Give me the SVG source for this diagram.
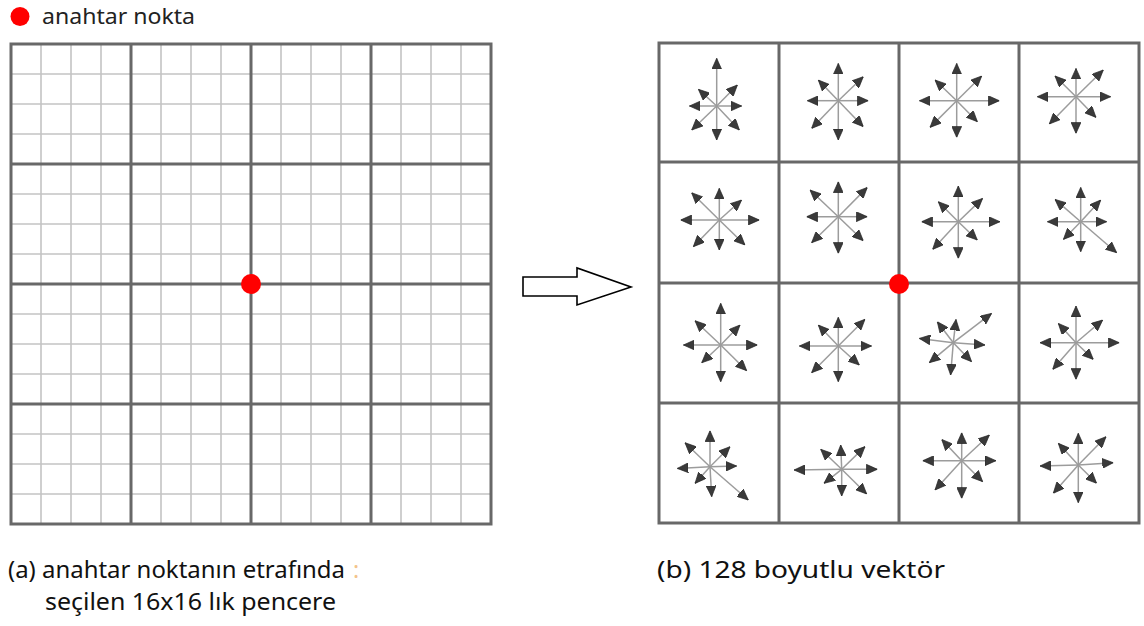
<svg xmlns="http://www.w3.org/2000/svg" width="1144" height="626" viewBox="0 0 1144 626">
<style>
.fine{stroke:#c4c4c4;stroke-width:1.6;fill:none}
.big{stroke:#686868;stroke-width:3;fill:none}
.v{stroke:#9c9c9c;stroke-width:1.5;marker-end:url(#ah)}
.lbl{font-family:"Noto Sans","Open Sans",sans-serif;font-size:21px;fill:#222}
.cap{font-family:"Noto Sans","Open Sans",sans-serif;font-size:23px;fill:#111}
.key{fill:#ff0000}
</style>
<defs>
<marker id="ah" viewBox="0 0 10 9" refX="10" refY="4.5" markerWidth="11" markerHeight="10" markerUnits="userSpaceOnUse" orient="auto">
<path d="M0,0 L10,4.5 L0,9 z" fill="#3a3a3a" stroke="#222" stroke-width="0.6"/>
</marker>
</defs>
<rect width="1144" height="626" fill="#fff"/>

<g id="legend">
<circle class="key" cx="20" cy="16.5" r="9.5"/>
<text class="lbl" x="42" y="24" textLength="153" lengthAdjust="spacingAndGlyphs">anahtar nokta</text>
</g>

<g id="window16x16">
<path class="fine" d="M41,44V524M71,44V524M101,44V524M161,44V524M191,44V524M221,44V524M281,44V524M311,44V524M341,44V524M401,44V524M431,44V524M461,44V524M11,74H491M11,104H491M11,134H491M11,194H491M11,224H491M11,254H491M11,314H491M11,344H491M11,374H491M11,434H491M11,464H491M11,494H491"/>
<path class="big" d="M131,44V524M251,44V524M371,44V524M11,164H491M11,284H491M11,404H491"/>
<rect class="big" x="11" y="44" width="480" height="480"/>
<circle class="key" cx="251" cy="284" r="10"/>
</g>

<g id="connectors">
<polygon points="523,277 577,277 577,268 631,287 577,305 577,296 523,296" fill="#fff" stroke="#000" stroke-width="1.6"/>
</g>

<g id="descriptor">
<path class="big" d="M779,43V523M899,43V523M1019,43V523M659,162H1139M659,283H1139M659,403H1139"/>
<rect class="big" x="659" y="43" width="480" height="480"/>

<g id="c00" transform="translate(716.7,106)">
<line class="v" x1="0" y1="0" x2="0" y2="-47.7"/><line class="v" x1="0" y1="0" x2="25" y2="0"/><line class="v" x1="0" y1="0" x2="0" y2="34"/><line class="v" x1="0" y1="0" x2="-27.3" y2="0"/>
<line class="v" x1="0" y1="0" x2="20.7" y2="-21"/><line class="v" x1="0" y1="0" x2="-18.3" y2="-16.7"/><line class="v" x1="0" y1="0" x2="22.7" y2="24"/><line class="v" x1="0" y1="0" x2="-25" y2="24"/>
</g>
<g id="c01" transform="translate(838.3,100.7)">
<line class="v" x1="0" y1="0" x2="0" y2="-37.3"/><line class="v" x1="0" y1="0" x2="30" y2="0"/><line class="v" x1="0" y1="0" x2="0" y2="39.3"/><line class="v" x1="0" y1="0" x2="-31" y2="0"/>
<line class="v" x1="0" y1="0" x2="25" y2="-24"/><line class="v" x1="0" y1="0" x2="-20" y2="-20.7"/><line class="v" x1="0" y1="0" x2="25" y2="26"/><line class="v" x1="0" y1="0" x2="-26.7" y2="27.7"/>
</g>
<g id="c02" transform="translate(956.7,100.7)">
<line class="v" x1="0" y1="0" x2="0" y2="-37.3"/><line class="v" x1="0" y1="0" x2="42.7" y2="0"/><line class="v" x1="0" y1="0" x2="0" y2="36.7"/><line class="v" x1="0" y1="0" x2="-37.3" y2="0"/>
<line class="v" x1="0" y1="0" x2="25" y2="-24.7"/><line class="v" x1="0" y1="0" x2="-21.7" y2="-20.7"/><line class="v" x1="0" y1="0" x2="20.7" y2="21"/><line class="v" x1="0" y1="0" x2="-26.7" y2="26.7"/>
</g>
<g id="c03" transform="translate(1076,96.7)">
<line class="v" x1="0" y1="0" x2="0" y2="-28.3"/><line class="v" x1="0" y1="0" x2="34.7" y2="0"/><line class="v" x1="0" y1="0" x2="0" y2="36.7"/><line class="v" x1="0" y1="0" x2="-38.7" y2="0"/>
<line class="v" x1="0" y1="0" x2="27.3" y2="-26.7"/><line class="v" x1="0" y1="0" x2="-21" y2="-20.7"/><line class="v" x1="0" y1="0" x2="20" y2="20.7"/><line class="v" x1="0" y1="0" x2="-26.7" y2="27.3"/>
</g>

<g id="c10" transform="translate(719.3,220)">
<line class="v" x1="0" y1="0" x2="0" y2="-31.7"/><line class="v" x1="0" y1="0" x2="40" y2="0"/><line class="v" x1="0" y1="0" x2="0" y2="30"/><line class="v" x1="0" y1="0" x2="-38.7" y2="0"/>
<line class="v" x1="0" y1="0" x2="22.3" y2="-20"/><line class="v" x1="0" y1="0" x2="-27.7" y2="-27.3"/><line class="v" x1="0" y1="0" x2="25.7" y2="25"/><line class="v" x1="0" y1="0" x2="-26" y2="26.7"/>
</g>
<g id="c11" transform="translate(838.3,216.7)">
<line class="v" x1="0" y1="0" x2="0" y2="-35"/><line class="v" x1="0" y1="0" x2="29" y2="0"/><line class="v" x1="0" y1="0" x2="0" y2="36.7"/><line class="v" x1="0" y1="0" x2="-31.7" y2="0"/>
<line class="v" x1="0" y1="0" x2="29" y2="-29.3"/><line class="v" x1="0" y1="0" x2="-28.3" y2="-26.7"/><line class="v" x1="0" y1="0" x2="25" y2="24"/><line class="v" x1="0" y1="0" x2="-26.7" y2="26"/>
</g>
<g id="c12" transform="translate(958.3,221.7)">
<line class="v" x1="0" y1="0" x2="0" y2="-35.7"/><line class="v" x1="0" y1="0" x2="41.7" y2="0"/><line class="v" x1="0" y1="0" x2="0" y2="36.7"/><line class="v" x1="0" y1="0" x2="-36.7" y2="0"/>
<line class="v" x1="0" y1="0" x2="24.3" y2="-23.3"/><line class="v" x1="0" y1="0" x2="-20" y2="-20"/><line class="v" x1="0" y1="0" x2="19" y2="18.3"/><line class="v" x1="0" y1="0" x2="-25.7" y2="27.7"/>
</g>
<g id="c13" transform="translate(1080.7,221.7)">
<line class="v" x1="0" y1="0" x2="0" y2="-34.3"/><line class="v" x1="0" y1="0" x2="26" y2="0"/><line class="v" x1="0" y1="0" x2="0" y2="30"/><line class="v" x1="0" y1="0" x2="-33.3" y2="0"/>
<line class="v" x1="0" y1="0" x2="20" y2="-21.7"/><line class="v" x1="0" y1="0" x2="-25.7" y2="-22.3"/><line class="v" x1="0" y1="0" x2="36" y2="31"/><line class="v" x1="0" y1="0" x2="-17.3" y2="17.7"/>
</g>

<g id="c20" transform="translate(720.7,345)">
<line class="v" x1="0" y1="0" x2="0" y2="-41.7"/><line class="v" x1="0" y1="0" x2="36.7" y2="0"/><line class="v" x1="0" y1="0" x2="0" y2="36.7"/><line class="v" x1="0" y1="0" x2="-37.3" y2="0"/>
<line class="v" x1="0" y1="0" x2="19.3" y2="-20"/><line class="v" x1="0" y1="0" x2="-25.7" y2="-24.3"/><line class="v" x1="0" y1="0" x2="26" y2="25.7"/><line class="v" x1="0" y1="0" x2="-19" y2="17.7"/>
</g>
<g id="c21" transform="translate(838.3,346)">
<line class="v" x1="0" y1="0" x2="0" y2="-28.7"/><line class="v" x1="0" y1="0" x2="33.3" y2="0"/><line class="v" x1="0" y1="0" x2="0" y2="35.7"/><line class="v" x1="0" y1="0" x2="-39" y2="0"/>
<line class="v" x1="0" y1="0" x2="26.7" y2="-26.7"/><line class="v" x1="0" y1="0" x2="-20" y2="-21"/><line class="v" x1="0" y1="0" x2="21" y2="19"/><line class="v" x1="0" y1="0" x2="-26.7" y2="26.7"/>
</g>
<g id="c22" transform="translate(953.3,342.7)">
<line class="v" x1="0" y1="0" x2="2.7" y2="-23.3"/><line class="v" x1="0" y1="0" x2="31.7" y2="2.3"/><line class="v" x1="0" y1="0" x2="-2.7" y2="32.3"/><line class="v" x1="0" y1="0" x2="-34" y2="-4.3"/>
<line class="v" x1="0" y1="0" x2="38.3" y2="-29.3"/><line class="v" x1="0" y1="0" x2="-16" y2="-21"/><line class="v" x1="0" y1="0" x2="18.3" y2="19"/><line class="v" x1="0" y1="0" x2="-24" y2="20"/>
</g>
<g id="c23" transform="translate(1076,342.7)">
<line class="v" x1="0" y1="0" x2="0" y2="-36.7"/><line class="v" x1="0" y1="0" x2="43.3" y2="0"/><line class="v" x1="0" y1="0" x2="0" y2="36.7"/><line class="v" x1="0" y1="0" x2="-36" y2="0"/>
<line class="v" x1="0" y1="0" x2="26.7" y2="-22.7"/><line class="v" x1="0" y1="0" x2="-17.7" y2="-19.3"/><line class="v" x1="0" y1="0" x2="17.3" y2="16.7"/><line class="v" x1="0" y1="0" x2="-23.3" y2="26.7"/>
</g>

<g id="c30" transform="translate(710,466.7)">
<line class="v" x1="0" y1="0" x2="0" y2="-36"/><line class="v" x1="0" y1="0" x2="26.7" y2="-0.7"/><line class="v" x1="0" y1="0" x2="1.7" y2="30"/><line class="v" x1="0" y1="0" x2="-32.7" y2="1.7"/>
<line class="v" x1="0" y1="0" x2="20" y2="-20"/><line class="v" x1="0" y1="0" x2="-25" y2="-24"/><line class="v" x1="0" y1="0" x2="38.3" y2="33.3"/><line class="v" x1="0" y1="0" x2="-15" y2="16.7"/>
</g>
<g id="c31" transform="translate(841.7,469.3)">
<line class="v" x1="0" y1="0" x2="-1" y2="-24.3"/><line class="v" x1="0" y1="0" x2="35.7" y2="0"/><line class="v" x1="0" y1="0" x2="0" y2="26.7"/><line class="v" x1="0" y1="0" x2="-47.7" y2="0.7"/>
<line class="v" x1="0" y1="0" x2="23.3" y2="-22.7"/><line class="v" x1="0" y1="0" x2="-21" y2="-20"/><line class="v" x1="0" y1="0" x2="25" y2="24.7"/><line class="v" x1="0" y1="0" x2="-17.7" y2="14"/>
</g>
<g id="c32" transform="translate(961.7,460.7)">
<line class="v" x1="0" y1="0" x2="0" y2="-28"/><line class="v" x1="0" y1="0" x2="34.3" y2="0"/><line class="v" x1="0" y1="0" x2="0" y2="37.7"/><line class="v" x1="0" y1="0" x2="-39" y2="0"/>
<line class="v" x1="0" y1="0" x2="27.7" y2="-25.7"/><line class="v" x1="0" y1="0" x2="-20" y2="-21.3"/><line class="v" x1="0" y1="0" x2="21" y2="21"/><line class="v" x1="0" y1="0" x2="-26.7" y2="29.3"/>
</g>
<g id="c33" transform="translate(1078.3,465)">
<line class="v" x1="0" y1="0" x2="0" y2="-31.7"/><line class="v" x1="0" y1="0" x2="35" y2="-2.3"/><line class="v" x1="0" y1="0" x2="0" y2="37.7"/><line class="v" x1="0" y1="0" x2="-38.3" y2="1"/>
<line class="v" x1="0" y1="0" x2="27.7" y2="-28.3"/><line class="v" x1="0" y1="0" x2="-20" y2="-21.7"/><line class="v" x1="0" y1="0" x2="18.3" y2="18.3"/><line class="v" x1="0" y1="0" x2="-25" y2="28.3"/>
</g>

<circle class="key" cx="899" cy="284" r="10"/>
</g>

<g id="captions">
<text class="cap" x="8" y="578" textLength="337" lengthAdjust="spacingAndGlyphs">(a) anahtar noktanın etrafında</text>
<text x="353" y="578" font-family="Noto Sans,sans-serif" font-size="23" fill="#f3c48a">:</text>
<text class="cap" x="45" y="610" textLength="291" lengthAdjust="spacingAndGlyphs">seçilen 16x16 lık pencere</text>
<text class="cap" x="657" y="578" textLength="288" lengthAdjust="spacingAndGlyphs">(b) 128 boyutlu vektör</text>
</g>
</svg>
